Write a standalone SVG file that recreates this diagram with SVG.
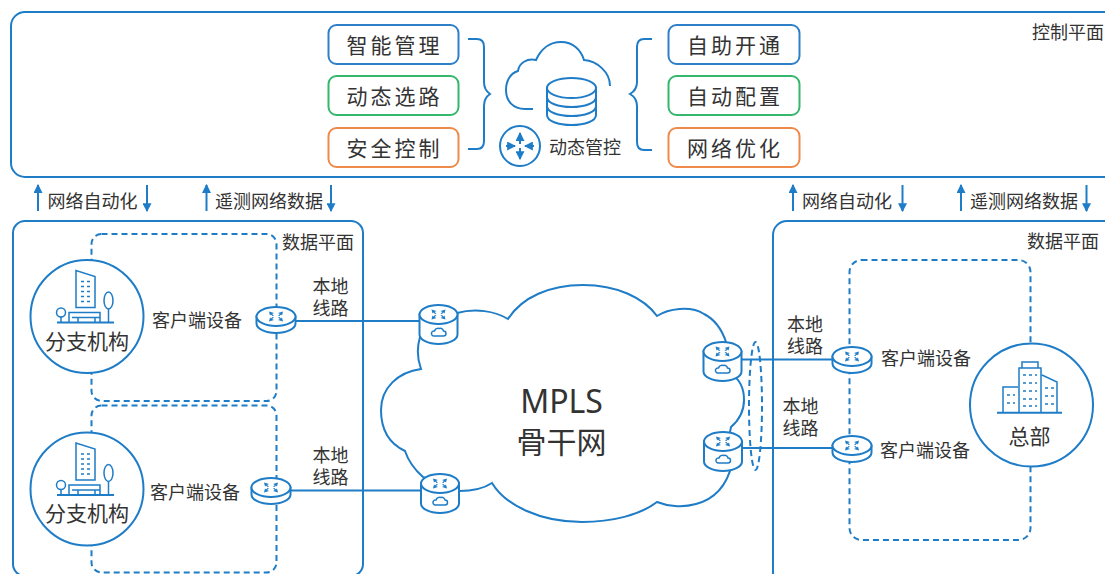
<svg xmlns="http://www.w3.org/2000/svg" width="1105" height="574" viewBox="0 0 1105 574">
<style>
.t{font-family:"Noto Sans CJK SC","Noto Sans",sans-serif;fill:#333;text-anchor:middle;font-size:18px}
.b{font-size:21px;letter-spacing:3px}
.n{font-size:21px}
.l{fill:none;stroke:#1f7cc6;stroke-width:2}
.th{fill:none;stroke:#1f7cc6;stroke-width:1.5}
.w{fill:#fff;stroke:#1f7cc6;stroke-width:2}
.d{fill:none;stroke:#1f7cc6;stroke-width:2;stroke-dasharray:6 4}
.f{fill:#1f7cc6;stroke:none}
.box{fill:#fff;stroke-width:2}
.ar{fill:none;stroke:#1f7cc6;stroke-width:2;marker-end:url(#ah)}
.win{fill:none;stroke:#1f7cc6;stroke-width:1.5;stroke-dasharray:3 3}
</style>
<defs>
<marker id="ah" viewBox="0 0 8 8" refX="7" refY="4" markerWidth="4.5" markerHeight="4.5" orient="auto"><path d="M0,0L8,4L0,8Z" fill="#1f7cc6"/></marker>
<g id="x4">
<path class="f" d="M-7,-5L-2,-3.500L-4,-2.500L-2,-1L-3.500,-.5L-5,-2L-6,-1ZM7,-5L2,-3.500L4,-2.500L2,-1L3.500,-.5L5,-2L6,-1ZM-7,5L-2,3.500L-4,2.500L-2,1L-3.500,.5L-5,2L-6,1ZM7,5L2,3.500L4,2.500L2,1L3.500,.5L5,2L6,1Z"/>
</g>
<g id="cpe">
<path class="w" d="M-19.500,0V7A19.500,9.500 0 0 0 19.500,7V0Z"/>
<ellipse class="w" rx="19.500" ry="9.500"/>
<use href="#x4"/>
</g>
<g id="pe">
<path class="w" d="M-19,0V20A19,9.500 0 0 0 19,20V0Z"/>
<ellipse class="w" rx="19" ry="9.500"/>
<use href="#x4"/>
<path class="th" d="M-5,21.500H5A2.500,2.500 0 0 0 5,16.500A3,3 0 0 0 1,14A4,4 0 0 0 -4,16.500A2.500,2.500 0 0 0 -5,21.500Z"/>
</g>
<g id="branch">
<circle class="w" r="56.500"/>
<path class="l" d="M-30,6H27"/>
<path class="th" d="M-11,-46V-9L8,-9V-40ZM-18,6V-4H13V6M-15,1H13M-9,1V6M8,1V6"/>
<circle class="th" cx="-26" cy="-4" r="4.500"/>
<path class="th" d="M-26,0V6"/>
<ellipse class="th" cx="21.500" cy="-16" rx="4.500" ry="8.500"/>
<path class="th" d="M21.500,-8V6"/>
<path class="win" d="M-6,-35H5M-6,-30H5M-6,-25H5M-6,-20H5M-6,-15H5" stroke-dasharray="1.500 3" />
</g>
</defs>

<g id="control-plane">
<rect class="l" x="11" y="12" width="1112" height="165" rx="14" fill="#fff"/>
<text class="t" x="1068" y="38.500">控制平面</text>
</g>
<g id="data-plane-left"><rect class="l" x="13" y="221" width="350" height="355" rx="12"/>
<text class="t" x="318" y="248.500">数据平面</text></g>
<g id="data-plane-right"><rect class="l" x="773" y="221" width="350" height="365" rx="14"/>
<text class="t" x="1063" y="248">数据平面</text></g>

<g id="control-items">
<g id="box-1"><rect class="box" x="328.500" y="25" width="130" height="39" rx="8" stroke="#2f80c8"/><text class="t b" x="394.500" y="52.500">智能管理</text></g>
<g id="box-2"><rect class="box" x="328.500" y="76" width="130" height="39" rx="8" stroke="#35b86b"/><text class="t b" x="394.500" y="103.500">动态选路</text></g>
<g id="box-3"><rect class="box" x="328.500" y="128" width="130" height="39" rx="8" stroke="#ee8b4c"/><text class="t b" x="394.500" y="155.500">安全控制</text></g>
<g id="box-4"><rect class="box" x="668.500" y="25" width="131" height="39" rx="8" stroke="#2f80c8"/><text class="t b" x="735" y="52.500">自助开通</text></g>
<g id="box-5"><rect class="box" x="668.500" y="76" width="131" height="39" rx="8" stroke="#35b86b"/><text class="t b" x="735" y="103.500">自动配置</text></g>
<g id="box-6"><rect class="box" x="668.500" y="128" width="131" height="39" rx="8" stroke="#ee8b4c"/><text class="t b" x="735" y="155.500">网络优化</text></g>
</g>
<g id="braces">
<path class="l" d="M468,39H477Q484,39 484,47V82Q484,90 490,94Q484,98 484,106V141Q484,149 477,149H468"/>
<path class="l" d="M652,39H644Q637,39 637,47V82Q637,90 630,94Q637,98 637,106V142Q637,150 644,150H652"/>
</g>
<g id="dynamic-control">
<path class="l" d="M533,109H525C513,109 506,101 506,90C506,80 511,73 518,71C519,63 527,58 536,60C541,49 550,42 561,42C573,42 581,50 584,60C597,61 610,72 610,86"/>
<g id="database">
<path class="w" d="M547,88V115C547,121 558,125 571.500,125C585,125 596,121 596,115V88Z"/>
<ellipse class="w" cx="571.500" cy="88" rx="24.500" ry="10"/>
<path class="l" d="M547,97C547,103 558,107 571.500,107C585,107 596,103 596,97M547,106C547,112 558,116 571.500,116C585,116 596,112 596,106"/>
</g>
<circle class="w" cx="520" cy="146" r="20"/>
<path class="ar" d="M520,144V133"/><path class="ar" d="M520,148V159"/>
<path class="ar" d="M506,146H515"/><path class="ar" d="M534,146H525"/>
<text class="t" x="585" y="153.500">动态管控</text>
</g>
<g id="sync-arrows">
<path class="ar" d="M38,211V185"/><path class="ar" d="M147,185V211"/>
<path class="ar" d="M206.500,211V185"/><path class="ar" d="M331,185V211"/>
<path class="ar" d="M793,211V185"/><path class="ar" d="M902.500,185V211"/>
<path class="ar" d="M961,211V185"/><path class="ar" d="M1086.500,185V211"/>
<text class="t" x="92.500" y="208">网络自动化</text>
<text class="t" x="269" y="208">遥测网络数据</text>
<text class="t" x="847" y="208">网络自动化</text>
<text class="t" x="1024" y="208">遥测网络数据</text>
</g>
<g id="site-boxes">
<rect class="d" x="91.500" y="234" width="185" height="167" rx="10"/>
<rect class="d" x="91.500" y="405.500" width="185" height="167" rx="10"/>
<rect class="d" x="849.500" y="260" width="181" height="280" rx="12"/>
</g>
<g id="mpls-cloud">
<path class="l" d="M457,313C475,308 495,311 508,319C522,297 550,285 583,285C617,285 644,298 657,316C668,309 690,305 704,314C716,320 722,330 726,342L732,375C742,381 744,392 744,400C744,412 738,421 731,427L730,432L732,464C727,485 715,499 696,504C682,508 667,506 657,502C640,515 612,522 582,522C540,522 505,505 492,483C483,489 470,491 459,491L423,477C415,470 408,460 405,451C388,443 381,428 381,410C381,388 398,372 421,369C417,358 417,347 420,337Z" fill="#fff"/>
<text class="t" x="561.500" y="413" style="font-size:32px;font-family:'Noto Sans',sans-serif">MPLS</text>
<text class="t" x="561.500" y="452.500" style="font-size:30px">骨干网</text>
</g>
<g id="connectors">
<path class="l" d="M295,321H420"/>
<path class="l" d="M290,490.500H420"/>
<path class="l" d="M742,359.500H833"/>
<path class="l" d="M742,448H833"/>
<ellipse class="d" cx="755.500" cy="406" rx="6.500" ry="64" stroke-dasharray="5 3"/>
</g>
<g id="branch-1"><use href="#branch" x="87" y="316.500"/><text class="t n" x="87" y="348.500">分支机构</text></g>
<g id="branch-2"><use href="#branch" x="87" y="489"/><text class="t n" x="87" y="520.500">分支机构</text></g>
<g id="hq">
<circle class="w" cx="1031.500" cy="405" r="61.500"/>
<path class="l" d="M997,412.700H1062"/>
<path class="th" d="M1019,412V368H1041V412M1022,368V362H1038V368M1003,412V387H1018M1042,375L1057,382V412"/>
<path class="win" d="M1023,375H1037M1023,383H1037M1023,391H1037M1023,399H1037M1023,406H1037M1007,395H1015M1007,403H1015M1045,388H1054M1045,396H1054M1045,404H1054"/>
<text class="t n" x="1029.500" y="443.500">总部</text>
</g>
<g id="cpe-1"><use href="#cpe" x="276" y="316.500"/><text class="t" x="197" y="326.500">客户端设备</text></g>
<g id="cpe-2"><use href="#cpe" x="271" y="487.500"/><text class="t" x="195" y="498.500">客户端设备</text></g>
<g id="cpe-3"><use href="#cpe" x="852" y="356.500"/><text class="t" x="926" y="364.500">客户端设备</text></g>
<g id="cpe-4"><use href="#cpe" x="852" y="445.500"/><text class="t" x="925" y="456.500">客户端设备</text></g>
<g id="pe-1"><use href="#pe" x="438.500" y="314.500"/></g>
<g id="pe-2"><use href="#pe" x="440" y="483.500"/></g>
<g id="pe-3"><use href="#pe" x="722.500" y="351.500"/></g>
<g id="pe-4"><use href="#pe" x="723" y="441.500"/></g>
<g id="line-labels">
<text class="t" x="330.500" y="293">本地</text><text class="t" x="330.500" y="314.500">线路</text>
<text class="t" x="330.500" y="461.500">本地</text><text class="t" x="330.500" y="483.500">线路</text>
<text class="t" x="805" y="331">本地</text><text class="t" x="805" y="353">线路</text>
<text class="t" x="800.500" y="412.500">本地</text><text class="t" x="800.500" y="434.500">线路</text>
</g>
</svg>
